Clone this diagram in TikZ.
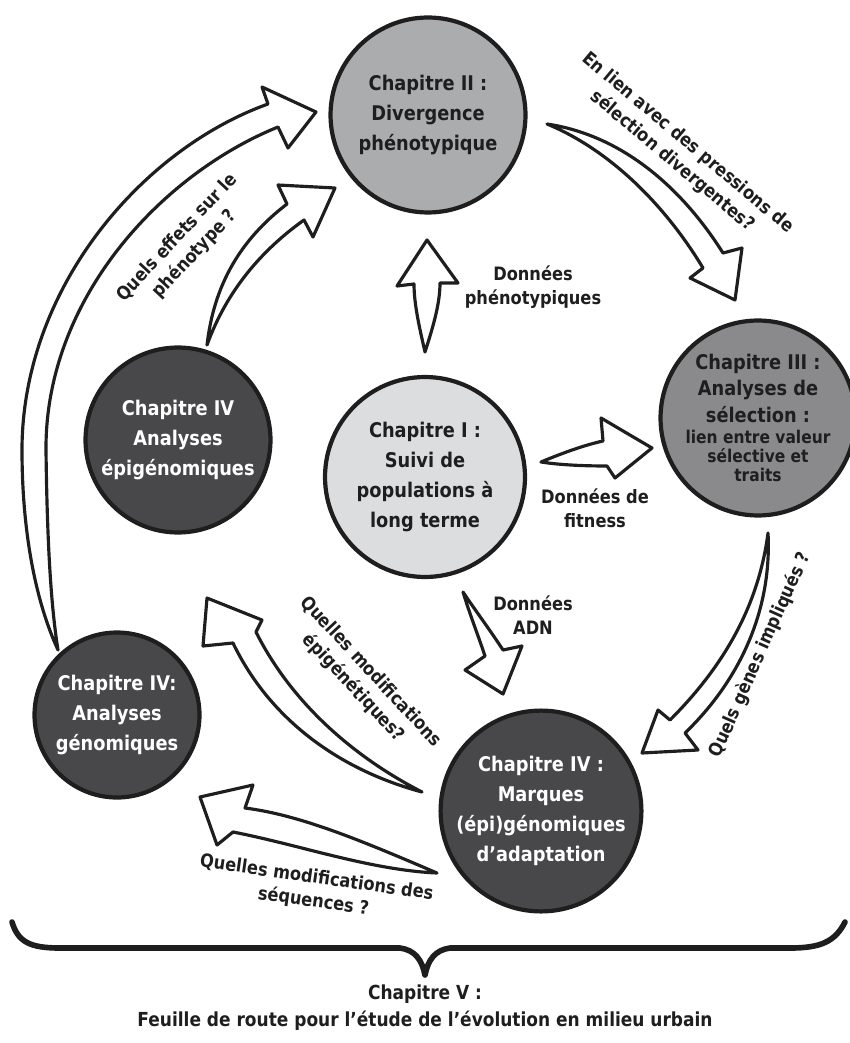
\documentclass[tikz,border=0pt]{standalone}
\usepackage{fontspec}
\setmainfont{DejaVu Sans}[FakeStretch=0.88]
\definecolor{inkc}{HTML}{1E1E1E}
\definecolor{paleI}{HTML}{DCDDDF}
\definecolor{greyII}{HTML}{ABACAE}
\definecolor{greyIII}{HTML}{8A8A8C}
\definecolor{darkIV}{HTML}{48484A}
\newcommand\smalltxt{\fontsize{10}{10}\selectfont}
\begin{document}
\begin{tikzpicture}[x=0.02cm, y=-0.02cm,
    chap/.style={circle, draw=inkc, line width=2.4pt, align=center, inner sep=0pt,
      font=\bfseries\fontsize{11.5}{17}\selectfont},
    chaplight/.style={chap, fill=paleI, text=inkc},
    chapdark/.style={chap, fill=darkIV, text=white},
    hollow/.style={draw=inkc, fill=white, line width=1.8pt, line join=round},
    lab/.style={align=center, text=inkc, font=\bfseries\fontsize{10.5}{13.5}\selectfont}]
    \useasboundingbox (0,0) rectangle (849,1043);

    % arrows
    \draw[hollow] (58,650) .. controls (35,600) and (22,530) .. (22,450)
        .. controls (22,290) and (140,150) .. (268,104) -- (262,87) -- (316,112)
        -- (288,148) -- (278,127) .. controls (160,175) and (45,300) .. (46,450)
        .. controls (47,530) and (50,600) .. (58,650) -- cycle;
    \draw[hollow] (207,345) .. controls (214,285) and (240,240) .. (287,204)
        -- (278,185) -- (335,188) -- (313,237) -- (304,220)
        .. controls (262,250) and (227,290) .. (207,345) -- cycle;
    \draw[hollow] (425,352) .. controls (420,330) and (414,305) .. (414,284)
        -- (397,286) -- (427,240) -- (458,283) -- (440,283)
        .. controls (440,305) and (432,330) .. (425,352) -- cycle;
    \draw[hollow] (541,462) .. controls (565,452) and (585,445) .. (603,441)
        -- (601,418) -- (652,448) -- (615,478) -- (607,466)
        .. controls (585,466) and (560,465) .. (541,462) -- cycle;
    \draw[hollow] (463,592) .. controls (470,615) and (478,635) .. (485,656)
        -- (465,670) -- (503,694) -- (522,646) -- (503,650)
        .. controls (490,630) and (475,610) .. (463,592) -- cycle;
    \draw[hollow] (547,124) .. controls (620,135) and (680,185) .. (723,253)
        -- (742,248) -- (735,300) -- (690,278) -- (703,268)
        .. controls (665,205) and (610,150) .. (547,124) -- cycle;
    \draw[hollow] (768,533) .. controls (772,610) and (740,680) .. (685,733)
        -- (698,750) -- (642,753) -- (658,710) -- (670,720)
        .. controls (720,670) and (758,610) .. (768,533) -- cycle;
    \draw[hollow] (422,792) .. controls (340,770) and (270,720) .. (233,643)
        -- (203,646) -- (207,598) -- (262,620) -- (256,632)
        .. controls (290,700) and (350,755) .. (422,792) -- cycle;
    \draw[hollow] (437,873) .. controls (360,840) and (300,815) .. (245,808)
        -- (253,785) -- (200,797) -- (217,845) -- (233,832)
        .. controls (300,845) and (370,870) .. (437,873) -- cycle;

    % chapters
    \node[chaplight, minimum size=4cm] (chapI) at (425,477)
        {Chapitre I :\\Suivi de\\populations à\\long terme};
    \node[chap, fill=greyII, text=inkc, minimum size=3.9cm] (chapII) at (428,115)
        {Chapitre II :\\Divergence\\phénotypique};
    \node[chap, fill=greyIII, text=inkc, minimum size=3.9cm,
        font=\bfseries\fontsize{11.5}{15}\selectfont] (chapIII) at (758,418)
        {Chapitre III :\\Analyses de\\sélection :\\[-3pt]\smalltxt lien entre valeur\\[-4pt]\smalltxt sélective et\\[-4pt]\smalltxt traits};
    \node[chapdark, minimum size=3.7cm] (chapEpi) at (178,440)
        {Chapitre IV\\Analyses\\épigénomiques};
    \node[chapdark, minimum size=3.3cm] (chapGen) at (117,715)
        {Chapitre IV:\\Analyses\\génomiques};
    \node[chapdark, minimum size=4cm] (chapMarq) at (541,811)
        {Chapitre IV :\\Marques\\(épi)génomiques\\d'adaptation};

    % labels
    \node[lab] (labPheno) at (533,287) {Données\\phénotypiques};
    \node[lab] (labFit) at (595,508) {Données de\\fitness};
    \node[lab] (labAdn) at (533,615) {Données\\ADN};
    \node[lab, rotate=-40] (labLien) at (680,152)
        {En lien avec des pressions de\\sélection divergentes?};
    \node[lab, rotate=47] (labEffets) at (186,246) {Quels effets sur le\\phénotype ?};
    \node[lab, rotate=66] (labGenes) at (760,655) {Quels gènes impliqués ?};
    \node[lab, rotate=-47] (labEpi) at (362,680) {Quelles modifications\\épigénétiques?};
    \node[lab, rotate=-8] (labSeq) at (315,890) {Quelles modifications des\\séquences ?};

    % chapter V
    \draw[inkc, line width=3.2pt, line cap=round, line join=round]
        (12,922) .. controls (18,942) and (30,948) .. (60,948) -- (400,948)
        .. controls (415,950) and (422,960) .. (425,975)
        .. controls (428,960) and (435,950) .. (450,948) -- (790,948)
        .. controls (820,948) and (835,942) .. (845,922);
    \node[lab, font=\bfseries\fontsize{11}{15.5}\selectfont] (chapV) at (425,1008)
        {Chapitre V :\\Feuille de route pour l'étude de l'évolution en milieu urbain};
\end{tikzpicture}
\end{document}
